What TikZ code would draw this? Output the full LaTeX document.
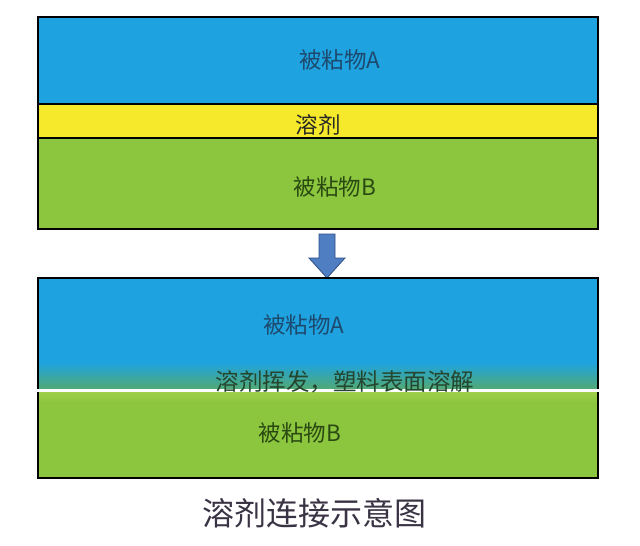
\documentclass[tikz,border=0pt]{standalone}
\usepackage{fontspec}
\setmainfont{Noto Sans CJK SC}
\definecolor{blueL}{HTML}{1EA3E0}
\definecolor{yellowL}{HTML}{F6E92B}
\definecolor{greenL}{HTML}{8CC63F}
\definecolor{greenLight}{HTML}{A6D24E}
\definecolor{mixL}{HTML}{52A974}
\definecolor{txtBlue}{HTML}{1D4A6E}
\definecolor{txtGreen}{HTML}{2A4A12}
\definecolor{txtMix}{HTML}{24462E}
\definecolor{arrowFill}{HTML}{4F7EC2}
\definecolor{arrowLine}{HTML}{2E4F86}
\definecolor{titleCol}{HTML}{3A3344}
\begin{document}
\begin{tikzpicture}[x=1pt,y=-1pt,
  lbl/.style={inner sep=0pt,font=\fontsize{22.5}{22.5}\selectfont},
  border/.style={draw=black,line width=1.2pt}]
\useasboundingbox (0,0) rectangle (640,546);
\fill[white] (0,0) rectangle (640,546);
% ---- top stack ----
\fill[blueL] (38,17) rectangle (598,104);
\fill[yellowL] (38,104) rectangle (598,138);
\fill[greenL] (38,138) rectangle (598,229);
\draw[border] (38,17) rectangle (598,229);
\draw[border] (38,104) -- (598,104);
\draw[border] (38,138) -- (598,138);
\node[lbl,text=txtBlue] (a1) at (340,60) {被粘物A};
\node[lbl,text=black!85] (s1) at (318,125) {溶剂};
\node[lbl,text=txtGreen] (b1) at (335,187) {被粘物B};
% ---- arrow ----
\coordinate (arrtop) at (327,234);
\coordinate (arrtip) at (327,278);
\filldraw[fill=arrowFill,draw=arrowLine,line width=0.8pt,line join=miter]
  ([xshift=-8pt]arrtop) -- ([xshift=8pt]arrtop) -- ([xshift=8pt,yshift=20pt]arrtip)
  -- ([xshift=18pt,yshift=20pt]arrtip) -- (arrtip) -- ([xshift=-18pt,yshift=20pt]arrtip)
  -- ([xshift=-8pt,yshift=20pt]arrtip) -- cycle;
% ---- bottom stack ----
\fill[blueL] (38,278) rectangle (598,362);
\shade[top color=blueL,bottom color=mixL] (38,362) rectangle (598,389);
\shade[top color=greenLight,bottom color=greenL] (38,389) rectangle (598,402);
\fill[greenL] (38,402) rectangle (598,478);
\draw[border] (38,278) rectangle (598,478);
\fill[white] (36,388.5) rectangle (600,391.5);
\node[lbl,text=txtBlue] (a2) at (304,325) {被粘物A};
\node[lbl,text=txtMix,font=\fontsize{23.5}{23.5}\selectfont] (m2) at (345,382) {溶剂挥发，塑料表面溶解};
\node[lbl,text=txtGreen] (b2) at (300,433) {被粘物B};
% ---- caption ----
\node[inner sep=0pt,text=titleCol,font=\fontsize{32}{32}\selectfont] (cap) at (314,513) {溶剂连接示意图};
\end{tikzpicture}
\end{document}
